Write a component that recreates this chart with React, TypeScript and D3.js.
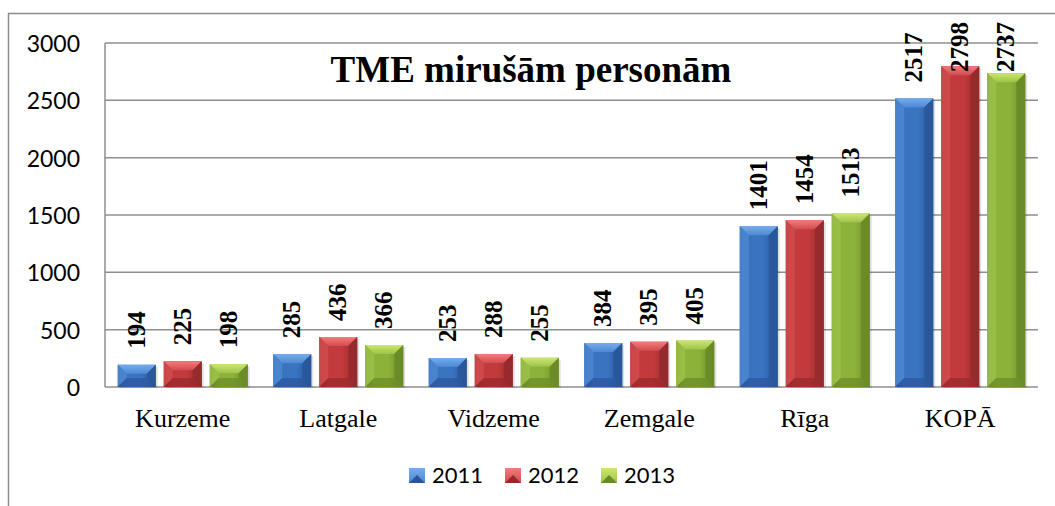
import React from "react";
import * as d3 from "d3";

const categories = ["Kurzeme", "Latgale", "Vidzeme", "Zemgale", "Rīga", "KOPĀ"];
const seriesNames = ["2011", "2012", "2013"];
const values2011 = [194, 285, 253, 384, 1401, 2517];
const values2012 = [225, 436, 288, 395, 1454, 2798];
const values2013 = [198, 366, 255, 405, 1513, 2737];
const yTicks = [0, 500, 1000, 1500, 2000, 2500, 3000];
const titleText = "TME mirušām personām";

const seriesValues = [values2011, values2012, values2013];

const palette = [
  { main: "#3a74c0", dark: "#29569a", light: "#74acee", side: "#4d88d4", id: "b" },
  { main: "#c23a3c", dark: "#952a2c", light: "#f27c7c", side: "#d24c4e", id: "r" },
  { main: "#8db23a", dark: "#6a8a28", light: "#cce870", side: "#9dc24a", id: "g" },
];

const W = 1055;
const H = 506;
const left = 105;
const right = 1038;
const top = 43;
const bottom = 387;

export default function App() {
  const x0 = d3.scaleBand<string>().domain(categories).range([left, right]).padding(0);
  const groupW = 130;
  const x1 = d3
    .scaleBand<string>()
    .domain(seriesNames)
    .range([0, groupW])
    .paddingInner(8 / 46)
    .paddingOuter(0);
  const y = d3.scaleLinear().domain([0, 3000]).range([bottom, top]);
  const labelFont = 25;

  const bars: React.ReactNode[] = [];
  const labels: React.ReactNode[] = [];
  categories.forEach((cat, ci) => {
    const gx = (x0(cat) as number) + (x0.bandwidth() - groupW) / 2;
    seriesNames.forEach((s, si) => {
      const v = seriesValues[si][ci];
      const bx = gx + (x1(s) as number);
      const bw = x1.bandwidth();
      const by = y(v);
      const bh = bottom - by;
      const b = Math.min(9, bh / 2);
      const p = palette[si];
      bars.push(
        <g key={`bar-${ci}-${si}`}>
          <rect x={bx + 2} y={by + 2} width={bw} height={bh - 1} fill="#000" opacity={0.12} />
          <rect x={bx} y={by} width={bw} height={bh} fill={`url(#grad-${p.id})`} />
          <polygon
            points={`${bx},${by} ${bx + bw},${by} ${bx + bw - b},${by + b} ${bx + b},${by + b}`}
            fill={`url(#top-${p.id})`}
          />
          <polygon
            points={`${bx},${by} ${bx + b},${by + b} ${bx + b},${bottom - b} ${bx},${bottom}`}
            fill={p.side}
            opacity={0.85}
          />
          <polygon
            points={`${bx + bw},${by} ${bx + bw - b},${by + b} ${bx + bw - b},${bottom - b} ${bx + bw},${bottom}`}
            fill={p.dark}
            opacity={0.9}
          />
          <polygon
            points={`${bx},${bottom} ${bx + b},${bottom - b} ${bx + bw - b},${bottom - b} ${bx + bw},${bottom}`}
            fill={p.dark}
            opacity={0.7}
          />
        </g>
      );
      const txt = String(v);
      const len = txt.length * 0.5 * labelFont;
      const ly = Math.max(by - 16, 22 + len);
      const lx = bx + bw / 2 + 8;
      labels.push(
        <text
          key={`lab-${ci}-${si}`}
          transform={`translate(${lx},${ly}) rotate(-90)`}
          fontFamily="'Liberation Serif', 'Times New Roman', serif"
          fontWeight="bold"
          fontSize={labelFont}
          fill="#000"
        >
          {txt}
        </text>
      );
    });
  });

  const legendX = [409, 505, 601];

  return (
    <svg
      width={W}
      height={H}
      style={{ position: "absolute", left: 0, top: 0, background: "#fff" }}
    >
      <defs>
        {palette.map((p) => (
          <React.Fragment key={p.id}>
            <linearGradient id={`grad-${p.id}`} x1="0" y1="0" x2="1" y2="0">
              <stop offset="0" stopColor={p.dark} />
              <stop offset="0.25" stopColor={p.main} />
              <stop offset="0.6" stopColor={p.main} />
              <stop offset="1" stopColor={p.dark} />
            </linearGradient>
            <linearGradient id={`top-${p.id}`} x1="0" y1="0" x2="0" y2="1">
              <stop offset="0" stopColor={p.light} />
              <stop offset="1" stopColor={p.side} />
            </linearGradient>
          </React.Fragment>
        ))}
      </defs>
      <rect x={8.5} y={13.5} width={W + 10} height={H + 10} fill="none" stroke="#8c8c8c" strokeWidth={1.5} />
      {yTicks.map((t) => (
        <g key={`t-${t}`}>
          <line x1={left} x2={right} y1={y(t)} y2={y(t)} stroke="#8f8f8f" strokeWidth={1.5} />
          <text
            x={80}
            y={y(t)}
            textAnchor="end"
            dominantBaseline="central"
            fontFamily="Lato, 'Open Sans', sans-serif"
            fontSize={23}
            fill="#000"
          >
            {t}
          </text>
        </g>
      ))}
      <line x1={left} x2={left} y1={top} y2={bottom} stroke="#8f8f8f" strokeWidth={1.5} />
      <text
        x={531}
        y={82}
        textAnchor="middle"
        fontFamily="'Liberation Serif', 'Times New Roman', serif"
        fontWeight="bold"
        fontSize={37}
        fill="#000"
      >
        {titleText}
      </text>
      {bars}
      {labels}
      {categories.map((c) => (
        <text
          key={`c-${c}`}
          x={(x0(c) as number) + x0.bandwidth() / 2}
          y={427}
          textAnchor="middle"
          fontFamily="'Liberation Serif', 'Times New Roman', serif"
          fontSize={26}
          fill="#000"
        >
          {c}
        </text>
      ))}
      {seriesNames.map((s, i) => (
        <g key={`lg-${s}`}>
          <rect x={legendX[i]} y={468} width={16} height={15} fill={`url(#top-${palette[i].id})`} />
          <polygon
            points={`${legendX[i]},${483} ${legendX[i] + 8},${475} ${legendX[i] + 16},${483}`}
            fill={palette[i].dark}
          />
          <text
            x={legendX[i] + 23}
            y={483}
            fontFamily="Lato, 'Open Sans', sans-serif"
            fontSize={22}
            fill="#000"
          >
            {s}
          </text>
        </g>
      ))}
    </svg>
  );
}
